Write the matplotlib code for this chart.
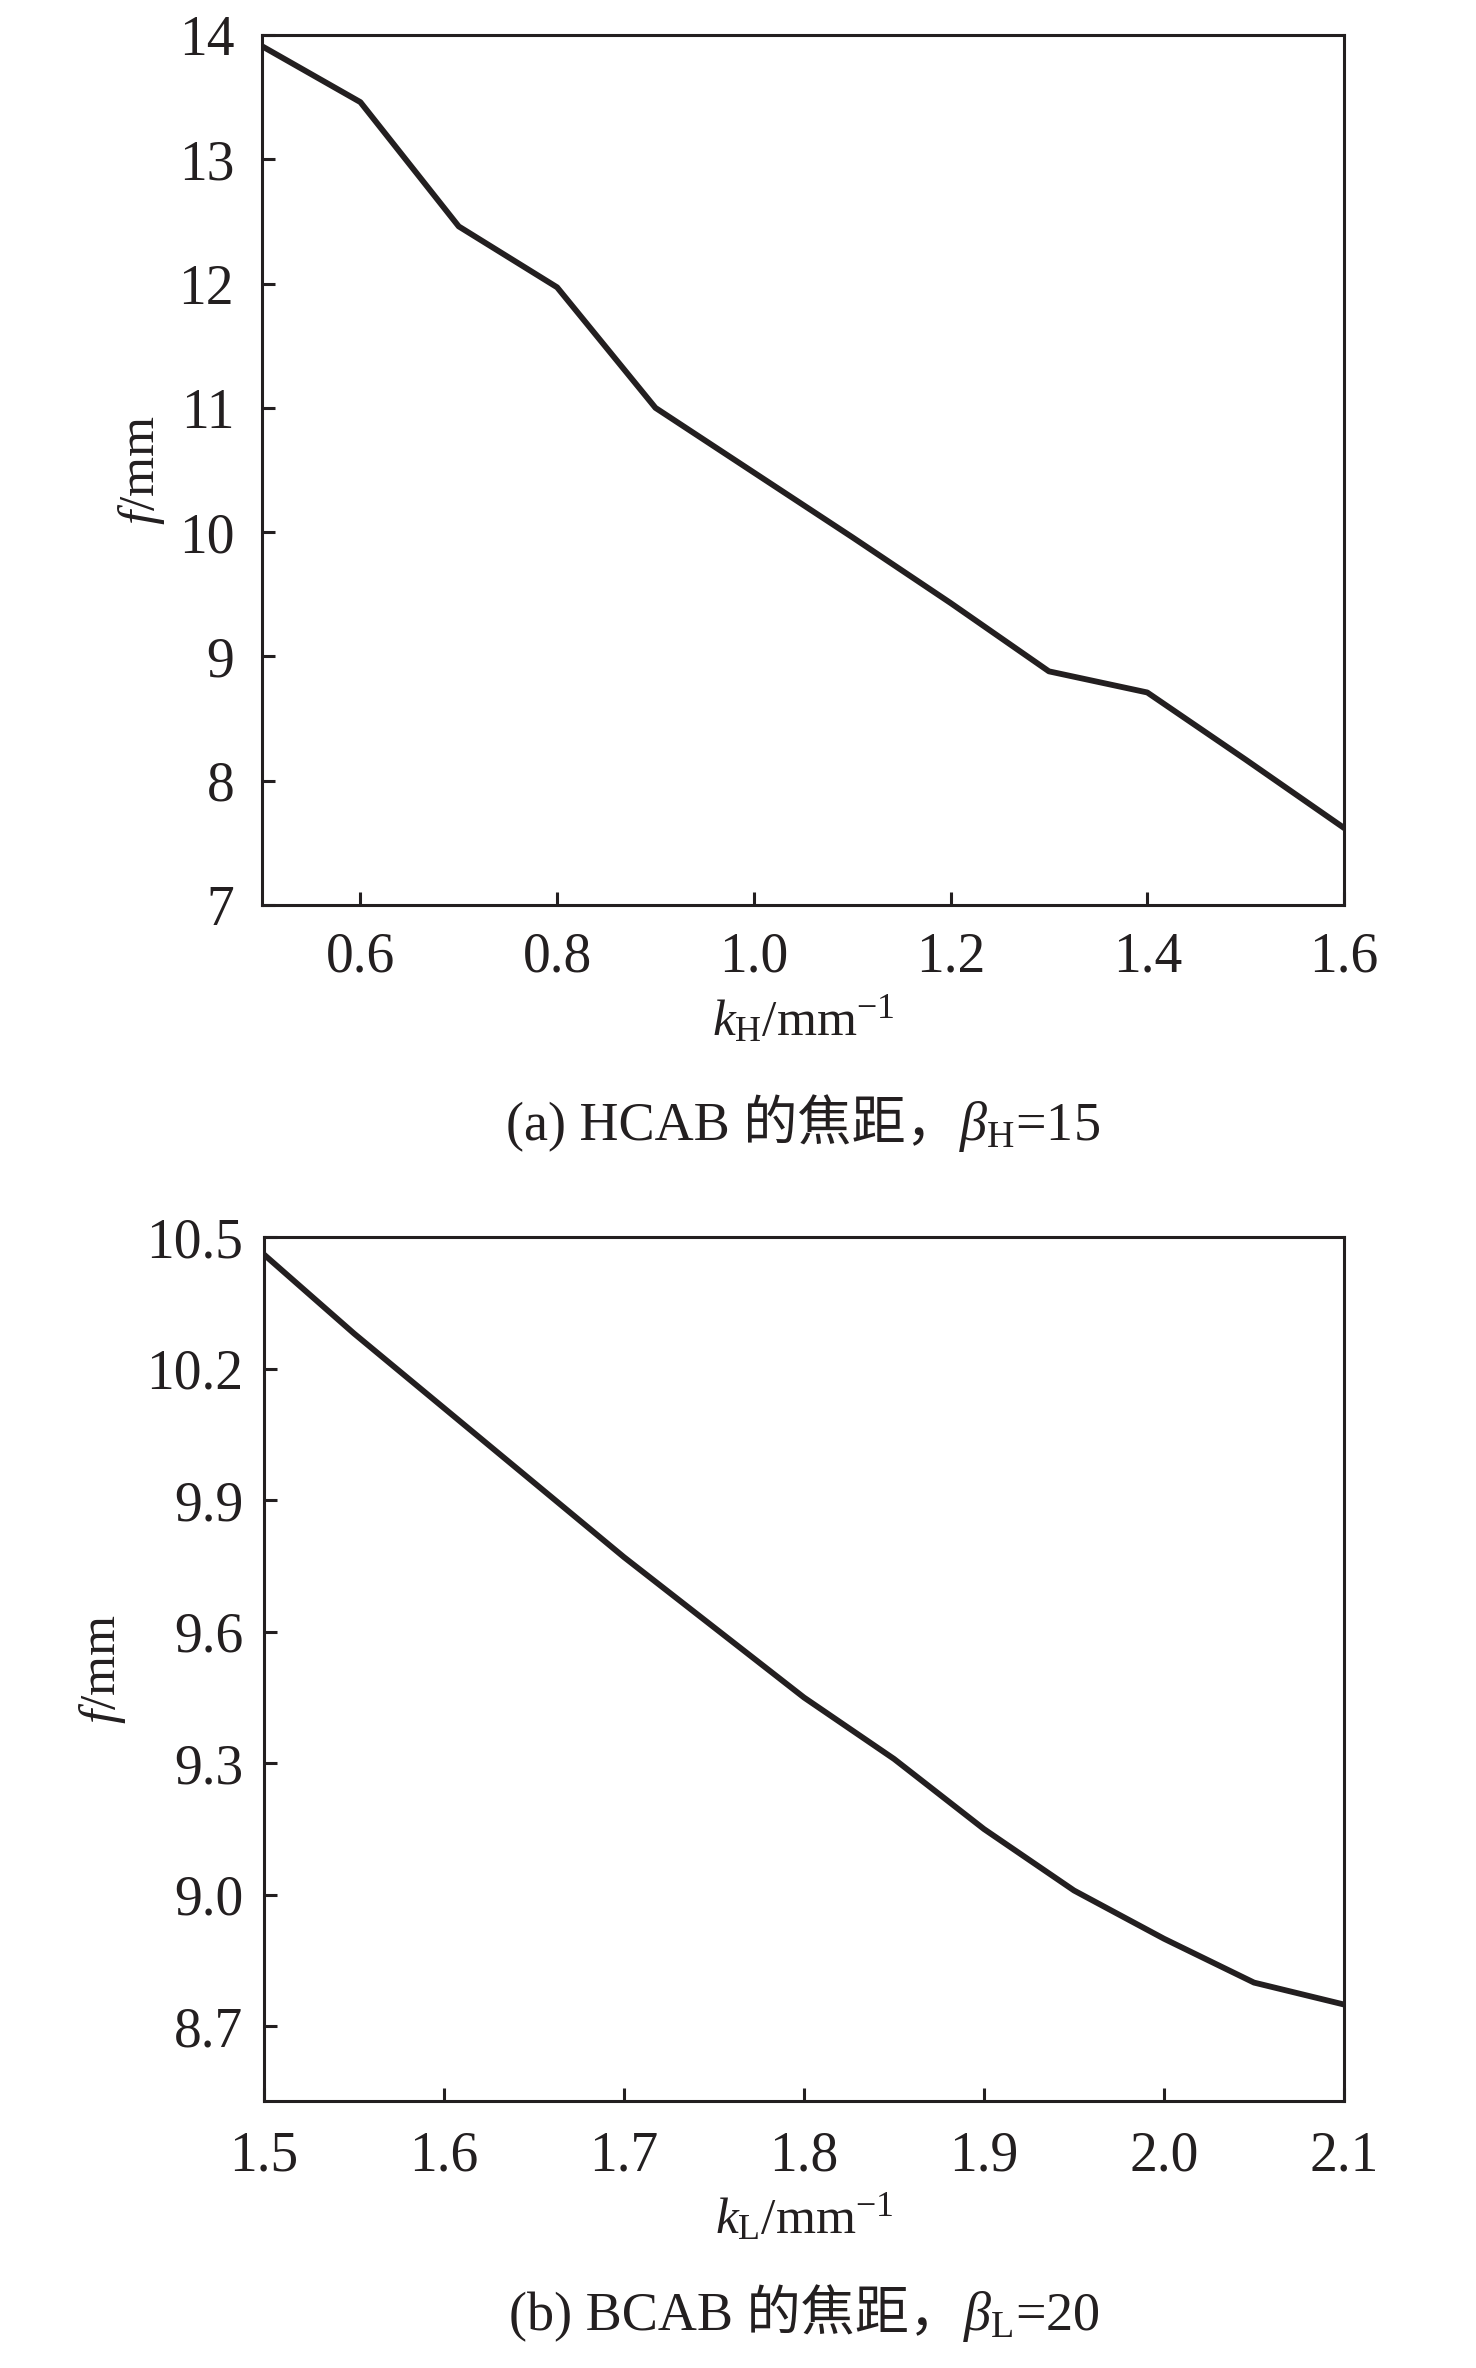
import numpy as np
import matplotlib.pyplot as plt

plt.rcParams['font.family'] = ['Liberation Serif', 'Noto Sans CJK SC']
plt.rcParams['mathtext.fontset'] = 'custom'
plt.rcParams['mathtext.rm'] = 'Liberation Serif'
plt.rcParams['mathtext.it'] = 'Liberation Serif:italic'
plt.rcParams['mathtext.bf'] = 'Liberation Serif:bold'

# 1 - Data

# (a) HCAB focal length, beta_H = 15
kH = [0.5, 0.6, 0.7, 0.8, 0.9, 1.0, 1.1, 1.2, 1.3, 1.4, 1.5, 1.6]
fH = [13.91, 13.46, 12.46, 11.97, 11.00, 10.48, 9.96, 9.43, 8.88, 8.71, 8.17, 7.62]
xtH = [0.6, 0.8, 1.0, 1.2, 1.4, 1.6]
ytH = [7, 8, 9, 10, 11, 12, 13, 14]

# (b) BCAB focal length, beta_L = 20
kL = [1.5, 1.55, 1.6, 1.65, 1.7, 1.75, 1.8, 1.85, 1.9, 1.95, 2.0, 2.05, 2.1]
fL = [10.46, 10.28, 10.11, 9.94, 9.77, 9.61, 9.45, 9.31, 9.15, 9.01, 8.90, 8.80, 8.75]
xtL = [1.5, 1.6, 1.7, 1.8, 1.9, 2.0, 2.1]
ytL = [8.7, 9.0, 9.3, 9.6, 9.9, 10.2, 10.5]

ink = '#231f20'

# 2 - Plot
W, H = 1476, 2368
fig = plt.figure(figsize=(W/100, H/100), dpi=100)
fig.patch.set_facecolor('w')

ax1 = fig.add_axes([262/W, 1-905/H, 1082/W, 870/H])
ax2 = fig.add_axes([264/W, 1-2101/H, 1080/W, 864/H])

ax1.plot(kH, fH, color=ink, lw=4.2, solid_joinstyle='round')
ax2.plot(kL, fL, color=ink, lw=4.2, solid_joinstyle='round')

ax1.set_xlim(0.5, 1.6)
ax1.set_ylim(7, 14)
ax1.set_xticks(xtH)
ax1.set_xticklabels([f'{v:.1f}' for v in xtH])
ax1.set_yticks(ytH)
ax1.set_yticklabels([f'{v}' for v in ytH])

ax2.set_xlim(1.5, 2.1)
ax2.set_ylim(8.53, 10.5)
ax2.set_xticks(xtL)
ax2.set_xticklabels([f'{v:.1f}' for v in xtL])
ax2.set_yticks(ytL)
ax2.set_yticklabels([f'{v:.1f}' for v in ytL])

for ax, xpad, ypad in [(ax1, 19, 20), (ax2, 21, 15)]:
  for sp in ax.spines.values():
    sp.set_linewidth(2.2)
    sp.set_color(ink)
  ax.tick_params(axis='both', direction='in', length=9.4, width=2.2,
                 color=ink, labelcolor=ink, labelsize=40)
  ax.tick_params(axis='x', pad=xpad)
  ax.tick_params(axis='y', pad=ypad)

ax1.set_xlabel(r'$k_\mathrm{H}$/mm$^{-1}$', fontsize=37, va='baseline', color=ink)
ax1.xaxis.set_label_coords(0.5, -(1035-905)/870)
ax1.set_ylabel(r'$f$/mm', fontsize=37, color=ink)
ax1.yaxis.set_label_coords((167-262)/1082, 0.5)

ax2.set_xlabel(r'$k_\mathrm{L}$/mm$^{-1}$', fontsize=37, va='baseline', color=ink)
ax2.xaxis.set_label_coords(0.5, -(2233-2101)/864)
ax2.set_ylabel(r'$f$/mm', fontsize=37, color=ink)
ax2.yaxis.set_label_coords((128-264)/1080, 0.5)

# captions: text part (with CJK) and math part set side by side
r = fig.canvas.get_renderer()
def caption(yb, xc, txt, mtxt):
  t1 = fig.text(0, 1-yb/H, txt, fontsize=39, va='baseline', ha='left', color=ink)
  t2 = fig.text(0, 1-yb/H, mtxt, fontsize=39, va='baseline', ha='left', color=ink)
  w1 = t1.get_window_extent(r).width
  w2 = t2.get_window_extent(r).width
  x0 = xc - (w1+w2)/2
  t1.set_x(x0/W)
  t2.set_x((x0+w1)/W)

caption(1140, 803, '(a) HCAB 的焦距，', r'$\beta_\mathrm{H}$=15')
caption(2330, 804, '(b) BCAB 的焦距，', r'$\beta_\mathrm{L}$=20')

plt.savefig('out.png', dpi=100, facecolor='w')
